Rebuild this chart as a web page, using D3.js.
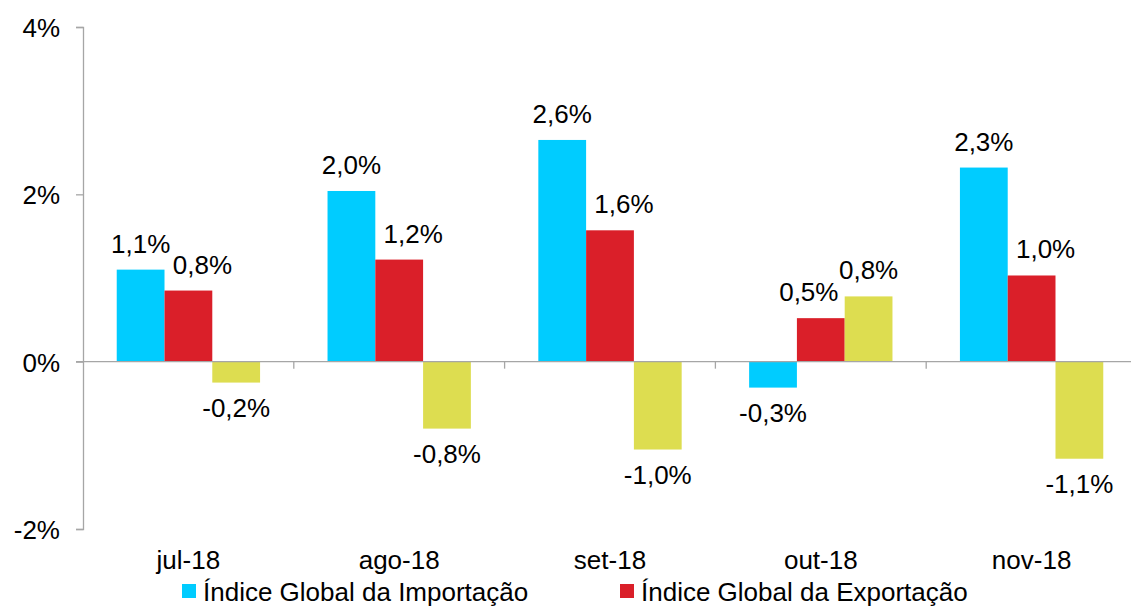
<!DOCTYPE html>
<html>
<head>
<meta charset="utf-8">
<script src="https://cdn.jsdelivr.net/npm/d3@7"></script>
<style>
    body { margin: 0; background: #fff; }
    svg { display: block; font-family: "Liberation Sans", Arial, sans-serif; }
</style>
</head>
<body>
<div id="chart"></div>
<script>
// Índices globais - variação mensal

const months = ['jul-18', 'ago-18', 'set-18', 'out-18', 'nov-18'];
const seriesNames = ['Índice Global da Importação', 'Índice Global da Exportação', 'Termos de Troca'];
const importValues = [1.10, 2.04, 2.65, -0.31, 2.32];
const exportValues = [0.85, 1.22, 1.57, 0.52, 1.03];
const thirdValues = [-0.25, -0.80, -1.05, 0.78, -1.16];
const importLabels = ['1,1%', '2,0%', '2,6%', '-0,3%', '2,3%'];
const exportLabels = ['0,8%', '1,2%', '1,6%', '0,5%', '1,0%'];
const thirdLabels = ['-0,2%', '-0,8%', '-1,0%', '0,8%', '-1,1%'];
const yTicks = [-2, 0, 2, 4];
const colors = ['#00ccff', '#da1f29', '#dddd50'];
const legendCount = 2; // only two legend entries fit in the frame

const width = 1131;
const height = 609;
const margin = [27, -6, 80, 83]; // top, right, bottom, left (plot runs slightly past the frame)
const fontSize = '26px';

const allValues = [importValues, exportValues, thirdValues];
const allLabels = [importLabels, exportLabels, thirdLabels];

const data = months.map((m, i) => ({
    month: m,
    bars: seriesNames.map((s, j) => ({
        s, j,
        v: allValues[j][i],
        label: allLabels[j][i],
        nextUp: j < 2 && allValues[j + 1][i] > 0
    }))
}));

const svg = d3.select('#chart')
    .append('svg')
    .attr('width', width)
    .attr('height', height);

const x = d3.scaleBand()
    .domain(months)
    .range([margin[3], width - margin[1]]);

const xSub = d3.scaleBand()
    .domain(seriesNames)
    .range([x.bandwidth() * 0.16, x.bandwidth() * 0.84]);

const y = d3.scaleLinear()
    .domain([-2, 4])
    .range([height - margin[2], margin[0]]);

// Y axis
const yAxis = svg.append('g')
    .attr('transform', `translate(${margin[3]},0)`)
    .call(d3.axisLeft(y).tickValues(yTicks).tickSize(7).tickPadding(16)
        .tickFormat(d => d + '%'));
yAxis.select('.domain').attr('stroke', '#a6a6a6').attr('stroke-width', 1.3);
yAxis.selectAll('.tick line').attr('stroke', '#a6a6a6').attr('stroke-width', 1.3);
yAxis.selectAll('.tick text')
    .attr('dy', '0.36em')
    .style('font-size', fontSize)
    .style('fill', '#000')
    .style('font-family', '"Liberation Sans", Arial, sans-serif');

// Groups
const groups = svg.selectAll('g.month')
    .data(data)
    .join('g')
    .attr('class', 'month')
    .attr('transform', d => `translate(${x(d.month)},0)`);

groups.selectAll('rect')
    .data(d => d.bars)
    .join('rect')
    .attr('x', d => xSub(d.s))
    .attr('width', xSub.bandwidth())
    .attr('y', d => y(Math.max(0, d.v)))
    .attr('height', d => Math.abs(y(d.v) - y(0)))
    .attr('fill', d => colors[d.j]);

// Zero line with category ticks
const xAxis = svg.append('g')
    .attr('transform', `translate(0,${y(0)})`);
xAxis.append('line')
    .attr('x1', margin[3] - 7)
    .attr('x2', width)
    .attr('stroke', '#a6a6a6')
    .attr('stroke-width', 1.3);
xAxis.selectAll('line.tick')
    .data(months.slice(1))
    .join('line')
    .attr('class', 'tick')
    .attr('x1', d => x(d))
    .attr('x2', d => x(d))
    .attr('y1', 0)
    .attr('y2', 7)
    .attr('stroke', '#a6a6a6')
    .attr('stroke-width', 1.3);

// Value labels (export labels nudged sideways like the original)
const labelShift = d => d.j !== 1 ? 0 : (d.nextUp ? -12 : 14);
groups.selectAll('text.val')
    .data(d => d.bars)
    .join('text')
    .attr('class', 'val')
    .attr('x', d => xSub(d.s) + xSub.bandwidth() / 2 + labelShift(d))
    .attr('y', d => d.v >= 0 ? y(d.v) - 17 : y(d.v) + 34)
    .attr('text-anchor', 'middle')
    .style('font-size', fontSize)
    .style('fill', '#000')
    .text(d => d.label);

// Category labels
svg.selectAll('text.cat')
    .data(months)
    .join('text')
    .attr('class', 'cat')
    .attr('x', d => x(d) + x.bandwidth() / 2)
    .attr('y', 569)
    .attr('text-anchor', 'middle')
    .style('font-size', fontSize)
    .style('fill', '#000')
    .text(d => d);

// Legend
const legend = svg.selectAll('g.legend')
    .data(seriesNames.slice(0, legendCount))
    .join('g')
    .attr('class', 'legend')
    .attr('transform', (d, i) => `translate(${182 + i * 438},584)`);
legend.append('rect')
    .attr('width', 14)
    .attr('height', 14)
    .attr('fill', (d, i) => colors[i]);
legend.append('text')
    .attr('x', 21)
    .attr('y', 17)
    .style('font-size', fontSize)
    .style('fill', '#000')
    .text(d => d);
</script>
</body>
</html>
